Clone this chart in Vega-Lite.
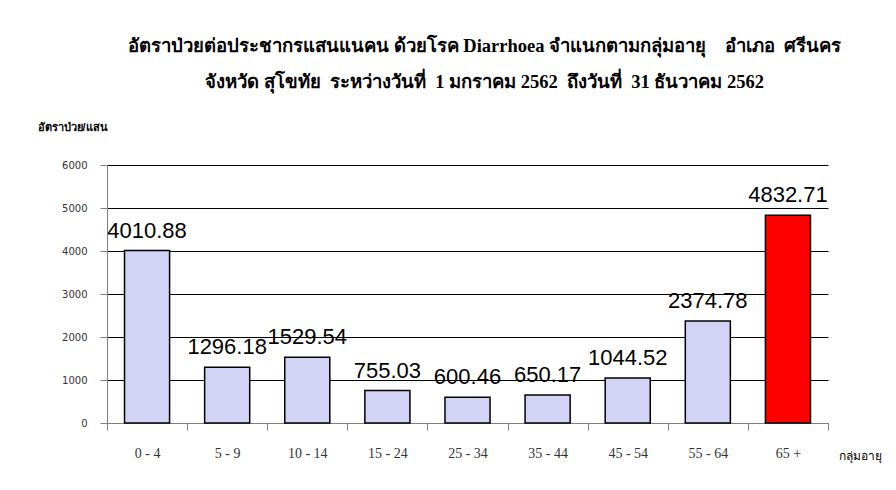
{
  "$schema": "https://vega.github.io/schema/vega-lite/v6.json",
  "width": 721,
  "height": 258,
  "autosize": {"type": "none"},
  "padding": {"left": 107, "top": 165, "right": 68, "bottom": 67},
  "background": "white",
  "config": {"view": {"stroke": null}, "font": "Liberation Sans"},
  "title": {
    "text": ["อัตราป่วยต่อประชากรแสนแนคน ด้วยโรค Diarrhoea จำแนกตามกลุ่มอายุ\u00a0\u00a0\u00a0 อำเภอ\u00a0 ศรีนคร", "จังหวัด สุโขทัย\u00a0 ระหว่างวันที่\u00a0 1 มกราคม 2562\u00a0 ถึงวันที่\u00a0 31 ธันวาคม 2562"],
    "font": "Liberation Serif",
    "fontSize": 18.5,
    "fontWeight": "bold",
    "lineHeight": 36,
    "anchor": "middle",
    "dx": 17,
    "offset": 30,
    "color": "black"
  },
  "data": {
    "values": [
      {"age": "0 - 4", "rate": 4010.88},
      {"age": "5 - 9", "rate": 1296.18},
      {"age": "10 - 14", "rate": 1529.54},
      {"age": "15 - 24", "rate": 755.03},
      {"age": "25 - 34", "rate": 600.46},
      {"age": "35 - 44", "rate": 650.17},
      {"age": "45 - 54", "rate": 1044.52},
      {"age": "55 - 64", "rate": 2374.78},
      {"age": "65 +", "rate": 4832.71}
    ]
  },
  "encoding": {
    "x": {
      "field": "age",
      "type": "nominal",
      "sort": null,
      "scale": {"paddingInner": 0, "paddingOuter": 0},
      "axis": {
        "title": "กลุ่มอายุ",
        "titleX": 731,
        "titleY": 32,
        "titleAlign": "left",
        "titleBaseline": "middle",
        "titleFontSize": 12,
        "titleFontWeight": "normal",
        "titleColor": "black",
        "labelAngle": 0,
        "labelFont": "Liberation Serif",
        "labelFontSize": 14,
        "labelColor": "#333333",
        "labelPadding": 16,
        "tickBand": "extent",
        "tickSize": 7,
        "tickColor": "#808080",
        "domainColor": "#808080"
      }
    },
    "y": {
      "field": "rate",
      "type": "quantitative",
      "scale": {"domain": [0, 6000], "nice": false},
      "axis": {
        "values": [0, 1000, 2000, 3000, 4000, 5000, 6000],
        "format": "d",
        "grid": true,
        "gridColor": "black",
        "gridOpacity": 1,
        "gridWidth": 1,
        "domainColor": "#808080",
        "tickColor": "#808080",
        "tickSize": 7,
        "labelPadding": 13,
        "labelFont": "DejaVu Sans",
        "labelFontSize": 10,
        "labelColor": "#333333",
        "title": "อัตราป่วย/แสน",
        "titleAngle": 0,
        "titleX": -70,
        "titleY": -38,
        "titleAlign": "left",
        "titleBaseline": "middle",
        "titleFontSize": 11,
        "titleFontWeight": "bold",
        "titleColor": "black"
      }
    }
  },
  "layer": [
    {
      "mark": {"type": "bar", "stroke": "black", "strokeWidth": 1.5, "width": {"band": 0.5625}},
      "encoding": {
        "color": {
          "condition": {"test": "datum.age === '65 +'", "value": "#ff0000"},
          "value": "#d3d3f6"
        }
      }
    },
    {
      "mark": {"type": "text", "font": "Liberation Sans", "fontSize": 22, "dy": -13, "baseline": "alphabetic", "align": "center", "color": "black"},
      "encoding": {
        "text": {"field": "rate", "type": "quantitative", "format": ".2f"}
      }
    }
  ]
}
